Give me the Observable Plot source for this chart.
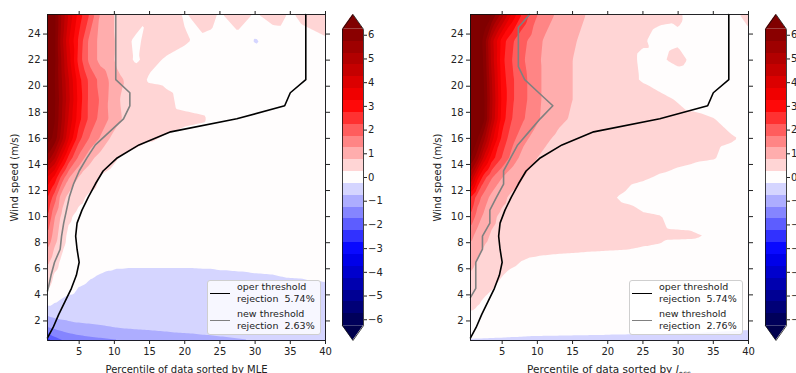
<!DOCTYPE html>
<html><head><meta charset="utf-8">
<script src="https://cdn.jsdelivr.net/npm/d3@7"></script>
<script src="https://cdn.jsdelivr.net/npm/@observablehq/plot@0.6"></script>
<style>
body{margin:0;background:#fff;}
#fig{position:relative;width:796px;height:373px;overflow:hidden;font-family:"DejaVu Sans",sans-serif;background:#fff;}
#fig > *{position:absolute;}
.leg{border:1px solid #cfcfcf;border-radius:3px;background:rgba(255,255,255,0.8);box-sizing:border-box;width:114px;height:55px;font-size:9.5px;color:#222;}
.ent{position:absolute;left:29px;line-height:12px;white-space:pre;}
.sw{position:absolute;left:2px;width:20px;height:0;border-top:1.6px solid;}
.xl{font-size:10.5px;line-height:1;white-space:pre;color:#222;transform:translateX(-50%);}
</style></head><body><div id="fig"></div>
<script>
// ---- grid coordinates of the field ----
const xs = [0.5, 1.5, 2.5, 3.5, 5, 6.5, 8, 9.5, 11, 13, 15, 17.5, 20, 22.5, 25, 27.5, 30, 32.5, 35, 37.5, 40];
const ys = [0.5, 1.5, 2.5, 3.5, 4.5, 5.5, 6.5, 7.5, 8.5, 10, 11.5, 13, 14.5, 16, 17.5, 19, 20.5, 22, 23.5, 25.5];

// ---- field sorted by MLE (rows bottom -> top) ----
const mleRows = [
  [-2.5,-2.0,-1.8,-1.62,-1.5,-1.42,-1.36,-1.31,-1.27,-1.2,-1.14,-1.07,-1.0,-0.93,-0.86,-0.8,-0.74,-0.69,-0.64,-0.59,-0.55],
  [-1.27,-1.15,-1.05,-0.98,-0.9,-0.86,-0.82,-0.77,-0.72,-0.68,-0.65,-0.6,-0.56,-0.52,-0.5,-0.48,-0.46,-0.45,-0.44,-0.43,-0.42],
  [-0.68,-0.6,-0.55,-0.52,-0.5,-0.48,-0.47,-0.46,-0.46,-0.46,-0.46,-0.46,-0.46,-0.46,-0.45,-0.45,-0.45,-0.44,-0.44,-0.43,-0.42],
  [-0.05,-0.2,-0.3,-0.38,-0.4,-0.43,-0.45,-0.46,-0.46,-0.46,-0.46,-0.46,-0.46,-0.46,-0.46,-0.46,-0.46,-0.46,-0.45,-0.44,-0.43],
  [0.3,0.05,-0.05,-0.12,-0.27,-0.35,-0.4,-0.44,-0.46,-0.47,-0.47,-0.47,-0.47,-0.47,-0.47,-0.47,-0.47,-0.46,-0.45,-0.36,-0.32],
  [0.55,0.2,0.05,0.0,-0.07,-0.2,-0.27,-0.34,-0.42,-0.46,-0.46,-0.46,-0.46,-0.42,-0.36,-0.32,-0.28,-0.26,-0.2,-0.18,-0.17],
  [0.85,0.45,0.15,0.05,0.0,0.0,-0.08,-0.08,-0.08,-0.08,-0.08,-0.08,-0.08,-0.08,-0.08,-0.08,-0.08,-0.08,-0.06,-0.05,-0.05],
  [1.25,0.7,0.3,0.1,0.02,0,0,0,0,0,0,0,0,0,0,0,0,0,0,0,0],
  [1.7,1.0,0.45,0.15,0.05,0,0,0,0,0,0,0,0,0,0,0,0,0,0,0,0],
  [2.3,1.3,0.65,0.32,0.12,0.05,0,0,0,0,0,0,0,0,0,0,0,0,0,0,0],
  [2.8,2.0,1.0,0.6,0.35,0.18,0.1,0.05,0,0,0,0,0,0,0,0,0,0,0,0,0],
  [3.7,3.1,2.1,1.3,0.7,0.45,0.22,0.12,0.05,0,0,0,0,0,0,0,0,0,0,0,0],
  [5.6,4.8,3.6,2.6,1.6,0.9,0.55,0.4,0.2,0.05,0,0,0,0,0,0,0,0,0,0,0],
  [6.5,6.1,5.0,3.8,2.4,1.7,1.2,0.7,0.55,0.45,0.3,0.2,0.1,0.05,0,0,0,0,0,0,0],
  [6.7,6.3,5.3,4.2,2.9,2.1,1.6,1.15,0.75,0.55,0.45,0.4,0.35,0.3,0.05,0,0,0,0,0,0],
  [6.8,6.35,5.4,4.4,3.0,2.1,1.7,1.1,0.7,0.55,0.5,0.35,0.1,0.05,0,0,0,0,0,0,0],
  [6.8,6.3,5.3,4.3,2.9,2.1,1.6,1.15,0.8,0.45,0.2,0.15,0.05,0,0,0.05,0,0,0,0.05,0.05],
  [6.9,6.4,5.2,4.0,2.5,1.6,1.1,0.9,0.45,0.2,0.35,0.2,0.1,0.05,0,0,0.05,0,0,0.05,0.1],
  [6.9,6.4,5.0,3.8,2.6,1.6,1.1,0.9,0.5,0.15,0.4,0.4,0.3,0.15,0.05,0.1,-0.3,-0.05,0,0.1,0.2],
  [6.7,6.4,5.2,4.2,3.0,2.2,1.2,0.9,0.4,0.6,0.3,0.5,0.2,0.5,0.2,0.5,0.2,0.45,0.2,0.4,0.5]
];

// ---- field sorted by l_oss (rows bottom -> top) ----
const lossRows = [
  [-0.3,-0.31,-0.32,-0.34,-0.35,-0.37,-0.38,-0.4,-0.4,-0.4,-0.4,-0.4,-0.4,-0.4,-0.4,-0.4,-0.4,-0.4,-0.4,-0.4,-0.4],
  [0.08,0.1,0.12,0.12,0.1,0.08,0.05,0.03,0.01,0.0,-0.02,-0.04,-0.06,-0.08,-0.09,-0.1,-0.12,-0.14,-0.16,-0.19,-0.21],
  [0.2,0.15,0.1,0.07,0.04,0.02,0,0,0,0,0,0,0,0,0,0,-0.01,-0.02,-0.03,-0.04,-0.05],
  [0.4,0.3,0.2,0.12,0.06,0.03,0,0,0,0,0,0,0,0,0,0,0,0,0,0,0],
  [0.55,0.45,0.35,0.27,0.15,0.08,0.04,0.02,0,0,0,0,0,0,0,0,0,0,0,0,0],
  [0.7,0.55,0.45,0.38,0.26,0.15,0.08,0.05,0.03,0,0,0,0,0,0,0,0,0,0,0,0],
  [0.9,0.7,0.55,0.48,0.4,0.32,0.22,0.15,0.1,0.07,0.05,0.03,0.02,0,0,0,0,0,0,0,0],
  [1.1,0.85,0.7,0.6,0.5,0.45,0.42,0.4,0.38,0.35,0.33,0.3,0.28,0.26,0.23,0.2,0.1,0.05,0.02,0,0],
  [1.4,1.05,0.85,0.7,0.58,0.5,0.45,0.42,0.4,0.38,0.36,0.35,0.34,0.33,0.32,0.31,0.3,0.29,0.2,0.1,0.05],
  [2.2,1.5,1.1,0.85,0.65,0.55,0.5,0.47,0.45,0.42,0.4,0.37,0.34,0.31,0.29,0.26,0.15,0.05,0.0,-0.02,-0.02],
  [2.8,2.0,1.5,1.1,0.85,0.65,0.55,0.5,0.45,0.42,0.38,0.33,0.28,0.22,0.12,0.05,0.0,-0.02,-0.02,-0.02,-0.02],
  [4.8,3.4,2.4,1.8,1.25,0.95,0.75,0.62,0.55,0.5,0.45,0.4,0.35,0.32,0.28,0.22,0.15,0.08,0.03,0,0],
  [6.3,5.4,4.0,3.0,2.2,1.5,1.05,0.8,0.65,0.55,0.5,0.45,0.42,0.4,0.38,0.36,0.34,0.3,0.27,0.15,0.1],
  [6.8,6.3,5.3,4.0,2.6,1.9,1.4,1.1,0.85,0.65,0.55,0.5,0.45,0.42,0.4,0.38,0.36,0.34,0.32,0.28,0.2],
  [7.2,6.8,6.3,4.8,3.0,2.2,1.8,1.45,1.1,0.85,0.7,0.6,0.5,0.45,0.42,0.4,0.37,0.33,0.26,0.15,0.1],
  [7.2,6.8,6.3,4.9,3.1,2.3,1.9,1.5,1.15,0.9,0.75,0.6,0.5,0.45,0.4,0.33,0.22,0.1,0.05,0,0],
  [7.2,6.8,6.2,4.8,3.0,2.3,1.9,1.5,1.15,0.9,0.75,0.6,0.45,0.35,0.22,0.1,0.05,0,0,0,0],
  [7.2,6.8,6.1,4.6,2.9,2.2,1.8,1.45,1.15,0.95,0.75,0.6,0.45,0.35,0.2,0.2,0.35,0.15,0.05,0.05,0.1],
  [7.2,6.8,6.0,4.5,3.0,2.3,1.9,1.5,1.2,1.0,0.8,0.6,0.45,0.35,0.28,0.15,0.2,0.1,0.05,0.05,0.1],
  [7.2,7.0,6.6,6.3,5.0,3.6,2.6,1.9,1.5,1.15,0.9,0.7,0.55,0.45,0.38,0.32,0.3,0.1,0.05,0.1,0.4]
];

// ---- threshold lines ----
const operX = [0.5, 1.3, 2.1, 3.0, 3.9, 4.6, 5.0, 4.7, 4.5, 4.7, 5.4, 6.3, 7.3, 8.4, 10.4, 13.5, 18.0, 27.4, 34.2, 35.0, 37.2, 37.2];
const operY = [0.7, 1.5, 2.5, 3.5, 4.5, 5.5, 6.5, 7.5, 8.5, 9.5, 10.5, 11.5, 12.5, 13.5, 14.5, 15.5, 16.5, 17.5, 18.5, 19.5, 20.5, 25.5];
const mleNewX = [0.5, 0.6, 1.0, 1.5, 2.3, 2.5, 2.8, 3.2, 3.6, 4.2, 5.0, 6.1, 7.3, 9.3, 11.3, 12.2, 12.2, 10.2, 10.2];
const mleNewY = [4.3, 4.5, 5.5, 6.5, 7.5, 8.5, 9.5, 10.5, 11.5, 12.5, 13.5, 14.5, 15.5, 16.5, 17.5, 18.5, 19.5, 20.5, 25.5];
const lossNewX = [0.5, 1.25, 1.25, 1.25, 2.2, 2.2, 3.25, 3.25, 4.2, 5.2, 5.2, 6.2, 7.2, 8.8, 10.4, 12.2, 10.2, 8.2, 7.3, 7.3, 8.9];
const lossNewY = [3.8, 4.5, 5.5, 6.5, 7.5, 8.5, 9.5, 10.5, 11.5, 12.5, 13.5, 14.5, 15.5, 16.5, 17.5, 18.5, 19.5, 20.5, 21.5, 24.5, 25.5];

// ---- levels, ticks, labels ----
const levels = [-6.25,-5.75,-5.25,-4.75,-4.25,-3.75,-3.25,-2.75,-2.25,-1.75,-1.25,-0.75,-0.25,0.25,0.75,1.25,1.75,2.25,2.75,3.25,3.75,4.25,4.75,5.25,5.75,6.25];
const xTicks = [5, 10, 15, 20, 25, 30, 35, 40];
const yTicks = [2, 4, 6, 8, 10, 12, 14, 16, 18, 20, 22, 24];
const cbTicks = [-6, -5, -4, -3, -2, -1, 0, 1, 2, 3, 4, 5, 6];
const legendNames = ["oper threshold", "new threshold"];
const rejMLE = ["5.74%", "2.63%"];
const rejLoss = ["5.74%", "2.76%"];

// ---- seismic colormap (256-entry LUT like matplotlib) ----
function seismic(t) {
  const i = Math.min(255, Math.max(0, Math.floor(t * 256)));
  const u = i / 255;
  const stops = [[0,0,0.3],[0,0,1],[1,1,1],[1,0,0],[0.5,0,0]];
  const s = u * 4, k = Math.min(3, Math.floor(s)), f = s - k;
  const c = stops[k].map((a, j) => a + (stops[k + 1][j] - a) * f);
  return `rgb(${c.map(v => Math.round(v * 255)).join(",")})`;
}
const lo = levels[0], hi = levels[levels.length - 1];
const bandColors = levels.slice(0, -1).map((l, i) => seismic(((l + levels[i + 1]) / 2 - lo) / (hi - lo)));
const colorScale = {type: "threshold", domain: levels, range: [seismic(0), ...bandColors, seismic(1)]};

const font = {fontFamily: "DejaVu Sans", fontSize: "10px", color: "#222", background: "transparent", overflow: "visible"};

function toGrid(rows) {
  const out = [];
  rows.forEach((row, j) => row.forEach((v, i) => out.push({x: xs[i], y: ys[j], v})));
  return out;
}
function pts(X, Y) { return X.map((x, i) => ({x, y: Y[i]})); }

function panel(rows, newX, newY, xlabel) {
  return Plot.plot({
    width: 340, height: 373, marginLeft: 47, marginRight: 15, marginTop: 14, marginBottom: 33,
    style: font,
    x: {domain: [0.5, 40]},
    y: {domain: [0.5, 25.5]},
    color: colorScale,
    marks: [
      Plot.contour(toGrid(rows), {x: "x", y: "y", fill: "v", thresholds: levels, interpolate: "barycentric", stroke: "none"}),
      Plot.line(pts(operX, operY), {x: "x", y: "y", stroke: "#000", strokeWidth: 1.6}),
      Plot.line(pts(newX, newY), {x: "x", y: "y", stroke: "#808080", strokeWidth: 1.6}),
      Plot.frame({stroke: "#111", strokeWidth: 0.9}),
      Plot.axisX(xTicks, {anchor: "bottom", tickSize: 4, tickPadding: 3, label: xlabel, labelAnchor: "center", labelOffset: 32, labelArrow: "none"}),
      Plot.axisX(xTicks, {anchor: "top", tickSize: 4, tickFormat: () => "", label: null}),
      Plot.axisY(yTicks, {anchor: "left", tickSize: 4, tickPadding: 3, label: "Wind speed (m/s)", labelAnchor: "center", labelOffset: 37, labelArrow: "none"}),
      Plot.axisY(yTicks, {anchor: "right", tickSize: 4, tickFormat: () => "", label: null})
    ]
  });
}

function colorbar() {
  const bands = levels.slice(0, -1).map((l, i) => ({lo: l, hi: levels[i + 1]}));
  const ext = (hi - lo) * 0.05;
  const top = [{x: 0, y: hi}, {x: 0.5, y: hi + ext}, {x: 1, y: hi}];
  const bot = [{x: 0, y: lo}, {x: 0.5, y: lo - ext}, {x: 1, y: lo}];
  const outline = [{x: 0, y: lo}, {x: 0, y: hi}, {x: 0.5, y: hi + ext}, {x: 1, y: hi}, {x: 1, y: lo}, {x: 0.5, y: lo - ext}, {x: 0, y: lo}];
  return Plot.plot({
    width: 60, height: 373, marginLeft: 0, marginRight: 39, marginTop: 14, marginBottom: 33,
    style: font,
    x: {domain: [0, 1], axis: null},
    y: {domain: [lo - ext, hi + ext]},
    color: colorScale,
    marks: [
      Plot.rect(bands, {x1: 0, x2: 1, y1: "lo", y2: "hi", fill: "lo", shapeRendering: "crispEdges"}),
      Plot.areaY(top, {x: "x", y1: hi, y2: "y", fill: () => hi + 1}),
      Plot.areaY(bot, {x: "x", y1: lo, y2: "y", fill: () => lo - 1}),
      Plot.line(outline, {x: "x", y: "y", stroke: "#111", strokeWidth: 0.8}),
      Plot.axisY(cbTicks, {anchor: "right", tickSize: 3, tickPadding: 1.5, label: null})
    ]
  });
}

function legend(left, rej) {
  const d = document.createElement("div");
  d.className = "leg";
  d.style.left = left + "px"; d.style.top = "280px";
  const colors = ["#000", "#808080"];
  const tops = [0.3, 27];
  legendNames.forEach((n, i) => {
    const sw = document.createElement("div");
    sw.className = "sw"; sw.style.borderTopColor = colors[i]; sw.style.top = (tops[i] + 12) + "px";
    const t = document.createElement("div");
    t.className = "ent"; t.style.top = tops[i] + "px";
    t.textContent = n + "\nrejection  " + rej[i];
    d.append(sw, t);
  });
  return d;
}

const fig = document.getElementById("fig");
const p1 = panel(mleRows, mleNewX, mleNewY, "Percentile of data sorted by MLE");
p1.style.left = "0px"; p1.style.top = "0px";
const c1 = colorbar(); c1.style.left = "342px"; c1.style.top = "0px";
const p2 = panel(lossRows, lossNewX, lossNewY, null);
p2.style.left = "423px"; p2.style.top = "0px";
const c2 = colorbar(); c2.style.left = "765px"; c2.style.top = "0px";
const xl2 = document.createElement("div");
xl2.className = "xl"; xl2.style.left = "609px"; xl2.style.top = "363.5px";
xl2.innerHTML = "Percentile of data sorted by <i>l</i><sub style=\"font-size:7.5px;vertical-align:-2.5px\">oss</sub>";
fig.append(p1, c1, p2, c2, legend(207, rejMLE), legend(629, rejLoss), xl2);
</script></body></html>
